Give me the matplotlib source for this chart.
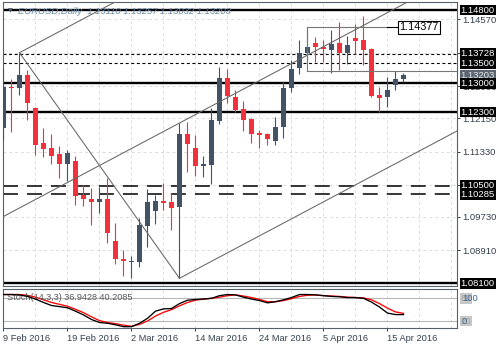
import matplotlib
matplotlib.use("Agg")
import matplotlib.pyplot as plt
import numpy as np
from matplotlib.transforms import blended_transform_factory

plt.rcParams['font.family'] = ['Liberation Sans', 'DejaVu Sans']

# EURUSD daily, 9 Feb 2016 .. 19 Apr 2016 (one entry per trading day)
opens = [1.11901, 1.12900, 1.12882, 1.13208, 1.12392, 1.11549, 1.11426, 1.11272,
         1.11027, 1.11100, 1.10267, 1.10172, 1.10104, 1.10172, 1.09148, 1.08700,
         1.08633, 1.08633, 1.09508, 1.09883, 1.10120, 1.10104, 1.09966, 1.11755,
         1.11426, 1.10978, 1.11003, 1.12081, 1.13127, 1.12676, 1.12374, 1.12130,
         1.11779, 1.11762, 1.11598, 1.11941, 1.12882, 1.13367, 1.13754, 1.13999,
         1.13901, 1.13832, 1.13984, 1.13754, 1.14114, 1.14058, 1.13837, 1.12718,
         1.12661, 1.12962, 1.13110]
highs = [1.13372, 1.13102, 1.13754, 1.13330, 1.12424, 1.11902, 1.11762, 1.11468,
         1.11370, 1.11223, 1.10512, 1.10432, 1.10471, 1.10677, 1.09589, 1.08920,
         1.08773, 1.09697, 1.10407, 1.10267, 1.10569, 1.10324, 1.12024, 1.12063,
         1.11738, 1.11223, 1.12392, 1.13411, 1.13347, 1.12840, 1.12570, 1.12154,
         1.11860, 1.11794, 1.12171, 1.13029, 1.13575, 1.14060, 1.14377, 1.14131,
         1.14053, 1.14310, 1.14513, 1.14151, 1.14445, 1.14665, 1.13857, 1.12921,
         1.13166, 1.13313, 1.13257]
lows = [1.11615, 1.11818, 1.12717, 1.12105, 1.11248, 1.11206, 1.11027, 1.10677,
        1.10618, 1.10023, 1.09998, 1.09533, 1.09834, 1.09084, 1.08570, 1.08283,
        1.08227, 1.08496, 1.09001, 1.09568, 1.09900, 1.09410, 1.08227, 1.10824,
        1.10740, 1.10701, 1.10537, 1.12007, 1.12514, 1.12308, 1.11843, 1.11534,
        1.11412, 1.11493, 1.11493, 1.11657, 1.12784, 1.13232, 1.13533, 1.13538,
        1.13526, 1.13249, 1.13318, 1.13489, 1.13710, 1.13453, 1.12661, 1.12308,
        1.12431, 1.12840, 1.13032]
closes = [1.12921, 1.12885, 1.13208, 1.12529, 1.11493, 1.11395, 1.11223, 1.11027,
          1.11289, 1.10250, 1.10162, 1.10104, 1.10172, 1.09344, 1.08692, 1.08643,
          1.08658, 1.09533, 1.10089, 1.10128, 1.10079, 1.09956, 1.11755, 1.11510,
          1.10978, 1.11027, 1.12105, 1.13141, 1.12700, 1.12350, 1.12105, 1.11762,
          1.11738, 1.11640, 1.11926, 1.12896, 1.13347, 1.13746, 1.13901, 1.13886,
          1.13837, 1.13962, 1.13754, 1.13943, 1.14048, 1.13827, 1.12693, 1.12637,
          1.12840, 1.13102, 1.13203]

# Stochastic(14,3,3): main (%K) and signal (%D)
stoch_k = [90, 90, 89, 85, 78, 69, 61, 58, 55, 46, 36, 24, 16, 14, 10, 5, 5,
           14, 27, 46, 52, 53, 66, 75, 77, 78, 80, 87, 90, 89, 83, 78, 74, 68,
           71, 76, 82, 90, 90, 89, 87, 85, 84, 82, 82, 80, 70, 57, 41, 37,
           36.9428]
stoch_d = [90, 90, 90, 88, 83, 76, 69, 64, 59, 51, 42, 31, 21, 16, 13, 9, 6,
           11, 20, 33, 43, 50, 60, 69, 75, 78, 80, 83, 87, 89, 86, 82, 77, 71,
           71, 74, 79, 85, 88, 89, 87, 86, 85, 83, 82, 81, 76, 66, 54, 44,
           40.2085]

tick_bars = [0, 8, 16, 24, 32, 40, 48]
tick_labels = ["9 Feb 2016", "19 Feb 2016", "2 Mar 2016", "14 Mar 2016",
               "24 Mar 2016", "5 Apr 2016", "15 Apr 2016"]

solid_levels = [1.14800, 1.13000, 1.12300, 1.08100]
short_dash_levels = [1.13728, 1.13500]
long_dash_levels = [1.10500, 1.10285]
grid_prices = [1.14570, 1.13750, 1.12930, 1.12150, 1.11330, 1.10510, 1.09730, 1.08910]

# pitchfork: handle point and the two reaction points (bar, price)
fork_handle = (-8, 1.08910)
fork_a = (2, 1.13754)
fork_b = (22, 1.08227)

# consolidation box
box_start, box_end = 38, 48
box_top, box_bottom = 1.14377, 1.13313

bull = '#435264'
bear = '#f2313d'
frame_col = '#55606b'
label_col = '#34404c'
grid_col = '#dcdcdc'

W, H = 500, 350
def frame(x0, y0, x1, y1):
    return [x0 / W, 1 - y1 / H, (x1 - x0) / W, (y1 - y0) / H]

fig = plt.figure(figsize=(5, 3.5), dpi=100)
ax = fig.add_axes(frame(3, 2, 457, 286))
ax2 = fig.add_axes(frame(3, 289, 457, 328))

n = len(opens)
idx = np.arange(n)
o = np.array(opens)
c = np.array(closes)
colors = np.where(c >= o, bull, bear)

# grid
for b in range(0, 60, 4):
    ax.axvline(b, color=grid_col, lw=0.7, ls=(0, (3, 3)), zorder=0)
    ax2.axvline(b, color=grid_col, lw=0.7, ls=(0, (3, 3)), zorder=0)
for p in grid_prices:
    ax.axhline(p, color=grid_col, lw=0.7, ls=(0, (3, 3)), zorder=0)

# support / resistance
for p in solid_levels:
    ax.axhline(p, color='black', lw=1.7, zorder=2)
for p in short_dash_levels:
    ax.axhline(p, color='black', lw=0.8, ls=(0, (2.7, 2.3)), zorder=2)
for p in long_dash_levels:
    ax.axhline(p, color='black', lw=1.1, ls=(0, (9.8, 5.9)), zorder=2)

# candles
ax.vlines(idx, lows, highs, colors=colors, lw=0.8, zorder=3)
body = np.maximum(np.abs(c - o), 0.00025)
ax.bar(idx, body, bottom=np.minimum(o, c), width=0.62, color=colors,
       linewidth=0, zorder=4)

# pitchfork
mid = ((fork_a[0] + fork_b[0]) / 2, (fork_a[1] + fork_b[1]) / 2)
slope = (mid[1] - fork_handle[1]) / (mid[0] - fork_handle[0])
x_end = 70
for px, py in [fork_handle, fork_a, fork_b]:
    ax.plot([px, x_end], [py, py + slope * (x_end - px)], color='#666666', lw=0.75, zorder=5)
ax.plot([fork_a[0], fork_b[0]], [fork_a[1], fork_b[1]], color='#666666', lw=0.75, zorder=5)

# box
ax.plot([box_start, box_end], [box_top, box_top], color='#777777', lw=0.8, zorder=5)
ax.plot([box_start, box_start], [box_bottom, box_top], color='#777777', lw=0.8, zorder=5)
ax.plot([box_start, x_end], [box_bottom, box_bottom], color='#777777', lw=0.8, zorder=5)
ax.plot([box_end, box_end + 1.2], [box_top, box_top], color='black', lw=0.8, zorder=5)
ax.text(box_end + 1.45, box_top, f'{box_top:.5f}', fontsize=7.8, color='black',
        va='center', ha='left', zorder=8,
        bbox=dict(boxstyle='square,pad=0.12', fc='white', ec='black', lw=0.8))

ax.set_xlim(-0.0625, 56.69)
ax.set_ylim(1.08038, 1.14996)
ax.set_xticks([])
ax.yaxis.tick_right()
ax.set_yticks(grid_prices)
ax.set_yticklabels([f'{p:.5f}' for p in grid_prices])
ax.tick_params(axis='y', length=2.2, pad=1.5, labelsize=6.8, colors=label_col, width=0.7)

trans = blended_transform_factory(ax.transAxes, ax.transData)
ax.text(1.0077, closes[-1], f'{closes[-1]:.5f}', transform=trans, color='#e2e6ea',
        fontsize=6.8, va='center', ha='left', zorder=6, clip_on=False,
        bbox=dict(boxstyle='square,pad=0.1', fc='#5c6670', ec='none'))
for p in solid_levels + short_dash_levels + long_dash_levels:
    ax.text(1.0077, p, f'{p:.5f}', transform=trans, color='white', fontsize=6.8,
            va='center', ha='left', zorder=7, clip_on=False,
            bbox=dict(boxstyle='square,pad=0.1', fc='black', ec='none'))

ax.text(0.0117, 0.968, '\u25bc', transform=ax.transAxes, fontsize=4.5, color='#4a5a6a',
        family='DejaVu Sans', va='center', ha='left', zorder=9)
ax.text(0.033, 0.968,
        f'EURUSD,Daily  {opens[-1]:.5f} {highs[-1]:.5f} {lows[-1]:.5f} {closes[-1]:.5f}',
        transform=ax.transAxes, fontsize=6.8, color='#6a89a8', style='italic',
        va='center', ha='left', zorder=9)

# stochastic panel
ax2.axhline(80, color='#b8b8b8', lw=0.8, zorder=1)
ax2.axhline(20, color='#b8b8b8', lw=0.8, zorder=1)
ax2.plot(idx, stoch_d, color='#ff0000', lw=0.95, zorder=3)
ax2.plot(idx, stoch_k, color='black', lw=0.95, zorder=4)
ax2.set_xlim(-0.0625, 56.69)
ax2.set_ylim(1.5, 104.6)
ax2.set_yticks([])
ax2.set_xticks(tick_bars)
ax2.set_xticklabels(tick_labels)
for lbl in ax2.get_xticklabels():
    lbl.set_horizontalalignment('left')
ax2.tick_params(axis='x', length=2.2, pad=2, labelsize=6.7, colors=label_col, width=0.7)
ax2.text(0.009, 0.77, f'Stoch(14,3,3) {stoch_k[-1]:.4f} {stoch_d[-1]:.4f}',
         transform=ax2.transAxes, fontsize=6.6, color='#5a5a5a', va='center', ha='left')

trans2 = blended_transform_factory(ax2.transAxes, ax2.transData)
for lvl, top in [(80, '100'), (20, '0')]:
    ax2.text(1.0077, lvl, str(lvl), transform=trans2, color='#a4a4a4', fontsize=6.8,
             va='center', ha='left', clip_on=False,
             bbox=dict(boxstyle='square,pad=0.1', fc='#c8c8c8', ec='none'))
    ax2.text(1.011, lvl, top, transform=trans2, color='#3f6a94', fontsize=6.8,
             va='center', ha='left', clip_on=False, zorder=6)

for a in (ax, ax2):
    for s in a.spines.values():
        s.set_color(frame_col)
        s.set_linewidth(0.8)

fig.savefig('out.png', dpi=100)
